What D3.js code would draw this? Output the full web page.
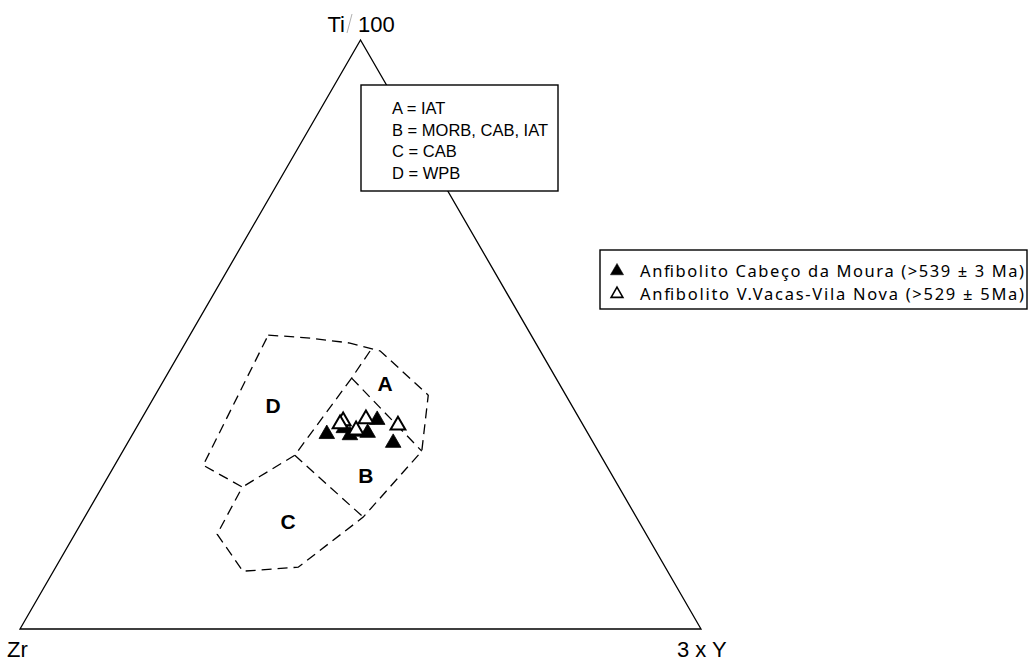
<!DOCTYPE html>
<html>
<head>
<meta charset="utf-8">
<script src="https://cdn.jsdelivr.net/npm/d3@7"></script>
<style>
  html, body { margin: 0; padding: 0; background: #fff; }
  svg { display: block; }
</style>
</head>
<body>
<svg id="chart" width="1029" height="664"></svg>
<script>
// ---- Data (ternary: Zr, Ti/100, 3xY in %) ----
const apexLabels = ["Zr", "Ti", "100", "3 x Y"];
const regionLetters = ["A", "B", "C", "D"];
const regionLetterPos = [ // [Zr, Ti, Y]
  [25.6, 41.6, 32.8],
  [36.1, 26.1, 37.7],
  [51.5, 18.3, 30.2],
  [43.9, 37.9, 18.2]
];
const legendBoxLines = ["A = IAT", "B = MORB, CAB, IAT", "C = CAB", "D = WPB"];
const seriesNames = ["Anfibolito Cabeço da Moura (>539 ± 3 Ma)", "Anfibolito V.Vacas-Vila Nova (>529 ± 5Ma)"];

// Outer dashed boundary of the field diagram
const outerBoundary = [
  [38.6, 49.9, 11.5],
  [32.7, 49.4, 17.9],
  [27.3, 48.6, 24.2],
  [23.5, 47.2, 29.3],
  [20.2, 39.7, 40.1],
  [25.9, 30.2, 43.9],
  [40.1, 19.0, 40.9],
  [53.9, 10.5, 35.6],
  [62.3, 9.8, 27.8],
  [63.0, 16.1, 20.9],
  [55.3, 24.1, 20.6],
  [59.2, 27.8, 13.0],
  [38.6, 49.9, 11.5]
];
// Internal dashed boundaries
const innerLines = [
  [[25.0, 47.2, 27.8], [30.0, 42.6, 27.4]],
  [[30.0, 42.6, 27.4], [25.9, 30.2, 43.9]],
  [[30.0, 42.6, 27.4], [44.9, 29.5, 25.6]],
  [[44.9, 29.5, 25.6], [40.1, 19.0, 40.9]],
  [[44.9, 29.5, 25.6], [55.3, 24.1, 20.6]]
];

// Samples
const cabecoMoura = [ // filled
  [38.4, 33.1, 28.5],
  [35.1, 32.9, 32.0],
  [32.3, 33.3, 34.4],
  [29.8, 35.5, 34.7],
  [29.4, 31.6, 39.0],
  [35.4, 34.1, 30.5],
  [34.0, 33.5, 32.5]
];
const vacasVilaNova = [ // open
  [34.9, 35.3, 29.8],
  [35.6, 34.8, 29.6],
  [31.4, 35.7, 33.0],
  [33.8, 33.8, 32.5],
  [27.2, 34.6, 38.2]
];

// ---- Scales ----
const svg = d3.select("#chart");
const xs = d3.scaleLinear().domain([0, 1]).range([20, 701]);
const ys = d3.scaleLinear().domain([0, 1]).range([629, 40]);
function proj(p) {
  const s = p[0] + p[1] + p[2];
  const ti = p[1] / s, y = p[2] / s;
  return [xs(y + ti / 2), ys(ti)];
}

// ---- Outer triangle ----
const tri = [[100, 0, 0], [0, 0, 100], [0, 100, 0], [100, 0, 0]].map(proj);
svg.append("path")
  .attr("d", d3.line()(tri) + "Z")
  .attr("fill", "none").attr("stroke", "#000").attr("stroke-width", 1.3)
  .attr("stroke-linejoin", "miter");

// ---- Field boundaries ----
const dash = "10,6";
svg.append("path")
  .attr("d", d3.line()(outerBoundary.map(proj)))
  .attr("fill", "none").attr("stroke", "#000").attr("stroke-width", 1.3)
  .attr("stroke-dasharray", dash);
innerLines.forEach(l => {
  svg.append("path")
    .attr("d", d3.line()(l.map(proj)))
    .attr("fill", "none").attr("stroke", "#000").attr("stroke-width", 1.3)
    .attr("stroke-dasharray", dash);
});

// Region letters
regionLetters.forEach((t, i) => {
  const [x, y] = proj(regionLetterPos[i]);
  svg.append("text").attr("x", x).attr("y", y)
    .attr("text-anchor", "middle").attr("dominant-baseline", "central")
    .attr("font-family", "Liberation Sans, Arial, sans-serif")
    .attr("font-weight", "bold").attr("font-size", 21)
    .text(t);
});

// ---- Markers ----
svg.append("g").selectAll("path").data(cabecoMoura).join("path")
  .attr("d", d3.symbol().type(d3.symbolTriangle).size(105))
  .attr("transform", d => { const [x, y] = proj(d); return `translate(${x},${y})`; })
  .attr("fill", "#000").attr("stroke", "#000").attr("stroke-width", 0.8);
svg.append("g").selectAll("path").data(vacasVilaNova).join("path")
  .attr("d", d3.symbol().type(d3.symbolTriangle).size(95))
  .attr("transform", d => { const [x, y] = proj(d); return `translate(${x},${y})`; })
  .attr("fill", "#fff").attr("stroke", "#000").attr("stroke-width", 2);

// ---- Apex labels ----
const labelFont = "Liberation Sans, Arial, sans-serif";
svg.append("text").attr("x", 345).attr("y", 32).attr("text-anchor", "end")
  .attr("font-family", labelFont).attr("font-size", 22).text(apexLabels[1]);
svg.append("line").attr("x1", 352).attr("y1", 14).attr("x2", 347).attr("y2", 33)
  .attr("stroke", "#b0b0b0").attr("stroke-width", 1);
svg.append("text").attr("x", 358).attr("y", 32).attr("text-anchor", "start")
  .attr("font-family", labelFont).attr("font-size", 22).text(apexLabels[2]);
svg.append("text").attr("x", 7).attr("y", 657)
  .attr("font-family", labelFont).attr("font-size", 22).text(apexLabels[0]);
svg.append("text").attr("x", 677).attr("y", 657)
  .attr("font-family", labelFont).attr("font-size", 22).text(apexLabels[3]);

// ---- Inner legend box ----
svg.append("rect").attr("x", 361).attr("y", 85).attr("width", 197).attr("height", 106)
  .attr("fill", "#fff").attr("stroke", "#000").attr("stroke-width", 1.4);
legendBoxLines.forEach((t, i) => {
  svg.append("text").attr("x", 392).attr("y", 114 + i * 21.5)
    .attr("font-family", labelFont).attr("font-size", 16.5).text(t);
});

// ---- Series legend ----
svg.append("rect").attr("x", 600).attr("y", 250).attr("width", 427).attr("height", 59)
  .attr("fill", "#fff").attr("stroke", "#000").attr("stroke-width", 1.4);
const legFont = "Noto Sans, Open Sans, sans-serif";
[0, 1].forEach(i => {
  const cy = 270 + i * 23;
  svg.append("path")
    .attr("d", d3.symbol().type(d3.symbolTriangle).size(i === 0 ? 75 : 60))
    .attr("transform", `translate(617,${cy + 1})`)
    .attr("fill", i === 0 ? "#000" : "#fff").attr("stroke", "#000")
    .attr("stroke-width", i === 0 ? 0.5 : 1.6);
  svg.append("text").attr("x", 640).attr("y", cy)
    .attr("dominant-baseline", "central")
    .attr("font-family", legFont).attr("font-size", 16.5)
    .attr("textLength", 384).attr("lengthAdjust", "spacing")
    .text(seriesNames[i]);
});
</script>
</body>
</html>
